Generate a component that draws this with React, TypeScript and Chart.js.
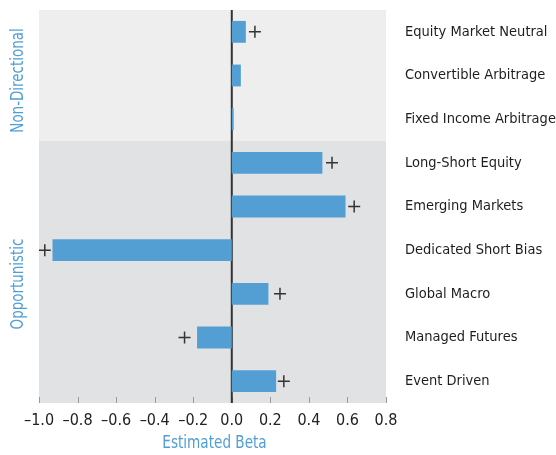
import React, { useEffect, useRef } from "react";
import { Chart, registerables } from "chart.js";

Chart.register(...registerables);

const categories = [
  "Equity Market Neutral",
  "Convertible Arbitrage",
  "Fixed Income Arbitrage",
  "Long-Short Equity",
  "Emerging Markets",
  "Dedicated Short Bias",
  "Global Macro",
  "Managed Futures",
  "Event Driven",
];
const betaValues = [0.073, 0.047, 0.01, 0.47, 0.59, -0.93, 0.19, -0.18, 0.23];
const plusMarkers: (number | null)[] = [0.12, null, null, 0.52, 0.635, -0.97, 0.25, -0.245, 0.27];
const groupNames = ["Non-Directional", "Opportunistic"];
const groupSizes = [3, 6];
const xTicks = [-1.0, -0.8, -0.6, -0.4, -0.2, 0.0, 0.2, 0.4, 0.6, 0.8];
const axisTitle = "Estimated Beta";

const FONT = '"Liberation Sans Narrow", "DejaVu Sans Condensed", "Arial Narrow", sans-serif';
const BLUE = "#4f9fd6";
const BAND_COLORS = ["#eeeeee", "#e1e2e4"];
const GROUP_LABEL_SHIFT = [5, 12];

const decorPlugin = {
  id: "decor",
  beforeDatasetsDraw(chart: any) {
    const { ctx, chartArea, scales } = chart;
    const n = categories.length;
    const rowH = (chartArea.bottom - chartArea.top) / n;
    let start = 0;
    ctx.save();
    groupSizes.forEach((size, gi) => {
      const top = chartArea.top + start * rowH;
      const bottom = chartArea.top + (start + size) * rowH;
      ctx.fillStyle = BAND_COLORS[gi % BAND_COLORS.length];
      ctx.fillRect(chartArea.left, top, chartArea.right - chartArea.left, bottom - top);
      start += size;
    });
    ctx.strokeStyle = "#9a9a9a";
    ctx.lineWidth = 1;
    xTicks.forEach((v) => {
      const px = Math.round(scales.x.getPixelForValue(v)) + 0.5;
      ctx.beginPath();
      ctx.moveTo(px, chartArea.bottom - 6);
      ctx.lineTo(px, chartArea.bottom);
      ctx.stroke();
    });
    const x0 = scales.x.getPixelForValue(0);
    ctx.strokeStyle = "#333333";
    ctx.lineWidth = 2;
    ctx.beginPath();
    ctx.moveTo(x0, chartArea.top);
    ctx.lineTo(x0, chartArea.bottom);
    ctx.stroke();
    ctx.restore();
  },
  afterDraw(chart: any) {
    const { ctx, chartArea } = chart;
    const n = categories.length;
    const rowH = (chartArea.bottom - chartArea.top) / n;
    ctx.save();
    ctx.fillStyle = BLUE;
    ctx.font = `18px ${FONT}`;
    ctx.textAlign = "center";
    ctx.textBaseline = "middle";
    let start = 0;
    groupSizes.forEach((size, gi) => {
      const cy = chartArea.top + (start + size / 2) * rowH + GROUP_LABEL_SHIFT[gi];
      ctx.save();
      ctx.translate(18, cy);
      ctx.rotate(-Math.PI / 2);
      ctx.scale(0.83, 1);
      ctx.fillText(groupNames[gi], 0, 0);
      ctx.restore();
      start += size;
    });
    const cx = (chartArea.left + chartArea.right) / 2;
    ctx.save();
    ctx.translate(cx + 2, 443);
    ctx.scale(0.84, 1);
    ctx.fillText(axisTitle, 0, 0);
    ctx.restore();
    ctx.restore();
  },
};

export default function App() {
  const ref = useRef<HTMLCanvasElement | null>(null);
  useEffect(() => {
    if (!ref.current) return;
    const chart = new Chart(ref.current, {
      type: "bar",
      data: {
        labels: categories,
        datasets: [
          {
            type: "bar",
            data: betaValues,
            backgroundColor: "#539fd4",
            barPercentage: 0.5,
            categoryPercentage: 1,
            order: 2,
          } as any,
          {
            type: "line",
            indexAxis: "y",
            data: plusMarkers,
            showLine: false,
            pointStyle: "cross",
            pointRadius: 6,
            pointBorderColor: "#333333",
            pointBorderWidth: 1.5,
            borderColor: "#333333",
            order: 1,
          } as any,
        ],
      },
      options: {
        indexAxis: "y",
        animation: false,
        responsive: true,
        maintainAspectRatio: false,
        layout: { padding: { left: 39, top: 10, right: 0, bottom: 0 } },
        plugins: { legend: { display: false }, tooltip: { enabled: false } },
        scales: {
          x: {
            type: "linear",
            min: -1.0,
            max: 0.8,
            afterBuildTicks(scale: any) {
              scale.ticks = xTicks.map((v) => ({ value: v }));
            },
            afterFit(scale: any) {
              scale.height = 52;
              scale.paddingLeft = 0;
              scale.paddingRight = 0;
            },
            border: { display: false },
            grid: { display: false, drawOnChartArea: false, drawTicks: false },
            ticks: {
              padding: 8,
              color: "#222222",
              autoSkip: false,
              maxRotation: 0,
              minRotation: 0,
              font: { family: FONT, size: 16 },
              callback: (v: any) => {
                const num = Number(v);
                const s = Math.abs(num).toFixed(1);
                return num < -1e-9 ? "\u2013" + s : s;
              },
            },
          },
          y: {
            type: "category",
            position: "right",
            afterFit(scale: any) {
              scale.width = 170;
              scale.paddingTop = 0;
              scale.paddingBottom = 0;
            },
            border: { display: false },
            grid: { display: false, drawTicks: false },
            ticks: {
              padding: 19,
              color: "#1e1e1e",
              autoSkip: false,
              font: { family: FONT, size: 14.5 },
            },
          },
        },
      },
      plugins: [decorPlugin],
    } as any);
    return () => chart.destroy();
  }, []);
  return (
    <div style={{ position: "fixed", left: 0, top: 0, width: 556, height: 455, background: "#ffffff" }}>
      <canvas ref={ref} />
    </div>
  );
}
